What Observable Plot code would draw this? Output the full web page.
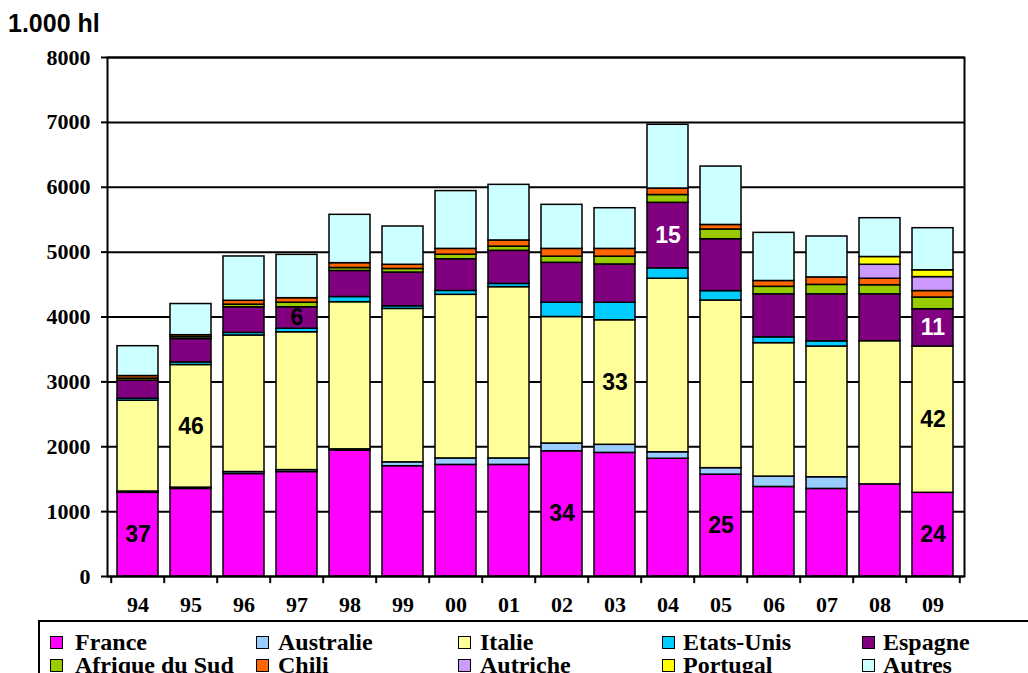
<!DOCTYPE html>
<html><head><meta charset="utf-8">
<script src="https://cdn.jsdelivr.net/npm/d3@7"></script>
<script src="https://cdn.jsdelivr.net/npm/@observablehq/plot@0.6"></script>
<style>
html,body{margin:0;padding:0;background:#fff;}
body{width:1028px;height:673px;overflow:hidden;position:relative;}
#chart{position:absolute;left:0;top:0;}
#title{position:absolute;left:8px;top:9px;font:bold 25px "Liberation Sans",Arial,sans-serif;line-height:28px;color:#000;z-index:2;}
#legend{position:absolute;left:38px;top:620px;width:1100px;height:120px;border-top:2px solid #000;border-left:2px solid #000;z-index:2;background:#fff;}
.sw{position:absolute;width:11px;height:11px;border:1.5px solid #000;}
.lt{position:absolute;font:bold 24px "Liberation Serif","Times New Roman",serif;line-height:20px;white-space:nowrap;color:#000;}
</style>
</head><body>
<div id="chart"></div>
<div id="title">1.000 hl</div>
<div id="legend"></div>
<script>
// ---- data ----
const years = ["94","95","96","97","98","99","00","01","02","03","04","05","06","07","08","09"];
const series = ["France","Australie","Italie","Etats-Unis","Espagne","Afrique du Sud","Chili","Autriche","Portugal","Autres"];
const colors = ["#FF00FF","#99CCFF","#FFFF99","#00CCFF","#800080","#99CC00","#FF6600","#CC99FF","#FFFF00","#CCFFFF"];

const france     = [1290,1350,1580,1610,1940,1700,1720,1720,1930,1905,1815,1570,1380,1350,1420,1290];
const australie  = [20,20,30,30,20,60,100,100,120,125,100,100,160,180,0,0];
const italie     = [1400,1890,2105,2125,2268,2365,2522,2640,1950,1920,2675,2584,2057,2015,2207,2255];
const etatsUnis  = [30,40,40,55,80,40,60,50,220,270,160,145,90,80,0,0];
const espagne    = [280,360,395,330,402,520,488,510,615,590,1010,800,663,725,723,575];
const afriqueSud = [30,30,40,70,45,55,70,65,95,120,120,150,115,145,140,180];
const chili      = [40,30,60,70,75,65,90,95,120,120,100,70,90,115,100,100];
const autriche   = [0,0,0,0,0,0,0,0,0,0,0,0,0,0,215,215];
const portugal   = [0,0,0,0,0,0,0,0,0,0,0,0,0,0,120,105];
const autres     = [460,480,683,668,745,590,891,857,679,627,983,900,742,631,598,649];

const yTicks = [0,1000,2000,3000,4000,5000,6000,7000,8000];

// share labels (percent) drawn inside segments
const labelYears  = ["94","95","97","02","03","04","05","09","09","09"];
const labelSeries = ["France","Italie","Espagne","France","Italie","Espagne","France","Italie","France","Espagne"];
const labelTexts  = ["37","46","6","34","33","15","25","42","24","11"];
const labelWhite  = [false,false,false,false,false,true,false,false,false,true];

// ---- build table ----
const valuesBySeries = [france,australie,italie,etatsUnis,espagne,afriqueSud,chili,autriche,portugal,autres];
const rows = [];
years.forEach((yr, i) => {
  series.forEach((s, k) => {
    const v = valuesBySeries[k][i];
    if (v > 0) rows.push({year: yr, series: s, value: v});
  });
});

const labels = labelYears.map((yr, j) => {
  const i = years.indexOf(yr);
  const k = series.indexOf(labelSeries[j]);
  let base = 0;
  for (let m = 0; m < k; m++) base += valuesBySeries[m][i];
  return {year: yr, y: base + valuesBySeries[k][i] / 2, text: labelTexts[j], white: labelWhite[j]};
});

const W = 1028, H = 619, ML = 107, MR = 64, MT = 57, MB = 43;
const step = (W - ML - MR) / years.length;

const plot = Plot.plot({
  width: W, height: H,
  marginLeft: ML, marginRight: MR, marginTop: MT, marginBottom: MB,
  style: {background: "transparent", fontFamily: "'Liberation Serif','Times New Roman',serif", fontWeight: "bold", fontSize: "22px", color: "#000"},
  x: {domain: years, paddingInner: 0.224, paddingOuter: 0.112, label: null},
  y: {domain: [0, 8000], label: null},
  color: {domain: series, range: colors},
  marks: [
    Plot.ruleY(yTicks, {stroke: "#000", strokeWidth: 2}),
    Plot.barY(rows, {x: "year", y: "value", fill: "series", order: series, stroke: "#000", strokeWidth: 1.5}),
    Plot.frame({stroke: "#000", strokeWidth: 2}),
    Plot.axisY({ticks: yTicks, tickSize: 6, tickPadding: 11, tickFormat: d => String(d), stroke: "#000", strokeWidth: 2, label: null}),
    Plot.axisX({tickSize: 0, tickPadding: 20, label: null}),
    Plot.ruleX(years, {x: d => d, y1: 0, y2: -110, dx: -step / 2, stroke: "#000", strokeWidth: 2}),
    Plot.ruleX(years.slice(-1), {x: d => d, y1: 0, y2: -110, dx: step / 2, stroke: "#000", strokeWidth: 2}),
    Plot.text(labels, {x: "year", y: "y", text: "text", fill: d => d.white ? "#fff" : "#000",
      fontFamily: "'Liberation Sans',Arial,sans-serif", fontWeight: "bold", fontSize: 23})
  ]
});
document.getElementById("chart").appendChild(plot);

// ---- legend ----
const legend = document.getElementById("legend");
const swX = [50, 256, 458, 662, 862];
const txX = [75, 278, 480, 683, 883];
const rowBase = [650, 673];
series.forEach((s, k) => {
  const col = k % 5, row = Math.floor(k / 5);
  const sw = document.createElement("div");
  sw.className = "sw";
  sw.style.background = colors[k];
  sw.style.left = (swX[col] - 40) + "px";
  sw.style.top = (rowBase[row] - 14 - 622) + "px";
  legend.appendChild(sw);
  const t = document.createElement("div");
  t.className = "lt";
  t.textContent = s;
  t.style.left = (txX[col] - 40) + "px";
  t.style.top = (rowBase[row] - 18 - 622) + "px";
  legend.appendChild(t);
});
</script>
</body></html>
